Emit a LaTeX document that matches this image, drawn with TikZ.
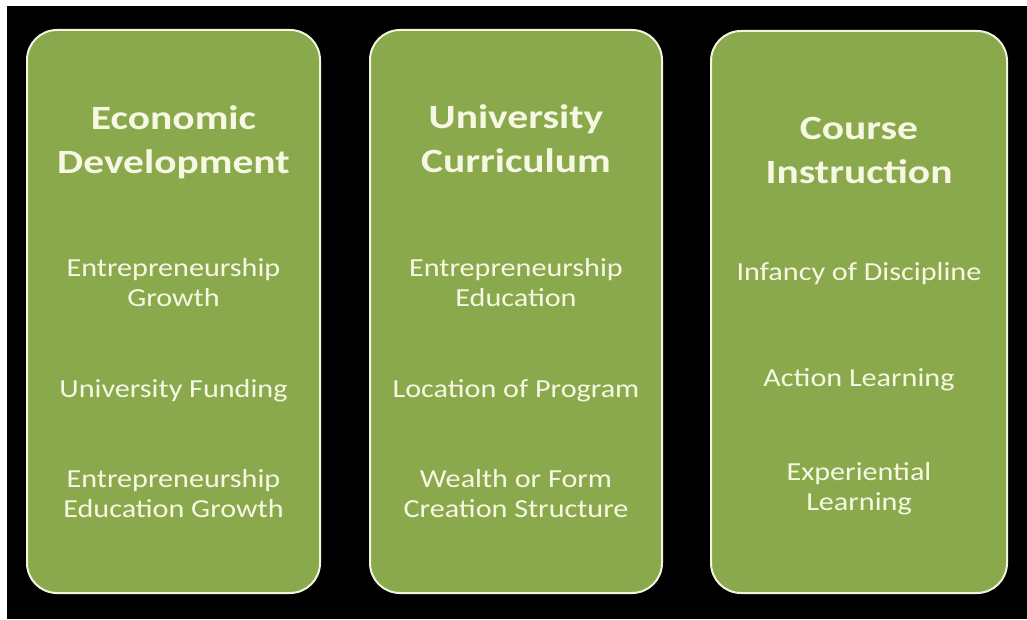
\documentclass[tikz,border=0pt]{standalone}
\usepackage{fontspec}
\usepackage{graphicx}
\setmainfont{Carlito}
\definecolor{panelgreen}{RGB}{138,169,77}
\definecolor{panelrim}{RGB}{240,245,222}
\definecolor{inktext}{RGB}{246,248,228}
% centred lines, widened horizontally by the factor #1
\newcommand{\widelines}[2]{\scalebox{#1}[1]{\begin{tabular}{@{}c@{}}#2\end{tabular}}}
\begin{document}
\begin{tikzpicture}[x=1pt,y=1pt,
  panel/.style={draw=panelrim, line width=2pt, fill=panelgreen,
    rounded corners=30pt, inner sep=0pt, outer sep=0pt},
  heading/.style={text=inktext, inner sep=0pt,
    font=\fontsize{34}{44}\selectfont\bfseries},
  item/.style={text=inktext, inner sep=0pt,
    font=\fontsize{26}{30}\selectfont}]
  % page and dark backdrop
  \fill[white] (0,0) rectangle (1027,619);
  \useasboundingbox (0,0) rectangle (1027,619);
  \fill[black] (7,0) rectangle (1027,613);

  % three columns
  \node[panel, minimum width=293pt, minimum height=563pt] (p1) at (173.5,307.5) {};
  \node[panel, minimum width=292pt, minimum height=563pt] (p2) at (516,307.5) {};
  \node[panel, minimum width=296pt, minimum height=562pt] (p3) at (859,307) {};

  % column 1
  \node[heading] (h1) at (173.5,476) {\widelines{1.22}{Economic\\Development}};
  \node[item] (a1) at (173.5,333) {\widelines{1.16}{Entrepreneurship\\Growth}};
  \node[item] (a2) at (173.5,228) {\widelines{1.16}{University Funding}};
  \node[item] (a3) at (173.5,123) {\widelines{1.16}{Entrepreneurship\\Education Growth}};

  % column 2
  \node[heading] (h2) at (516,477) {\widelines{1.22}{University\\Curriculum}};
  \node[item] (b1) at (516,333) {\widelines{1.16}{Entrepreneurship\\Education}};
  \node[item] (b2) at (516,228) {\widelines{1.16}{Location of Program}};
  \node[item] (b3) at (516,123) {\widelines{1.16}{Wealth or Form\\Creation Structure}};

  % column 3
  \node[heading] (h3) at (859,466) {\widelines{1.22}{Course\\Instruction}};
  \node[item] (c1) at (859,344) {\widelines{1.16}{Infancy of Discipline}};
  \node[item] (c2) at (859,239) {\widelines{1.16}{Action Learning}};
  \node[item] (c3) at (859,130) {\widelines{1.16}{Experiential\\Learning}};
\end{tikzpicture}
\end{document}
